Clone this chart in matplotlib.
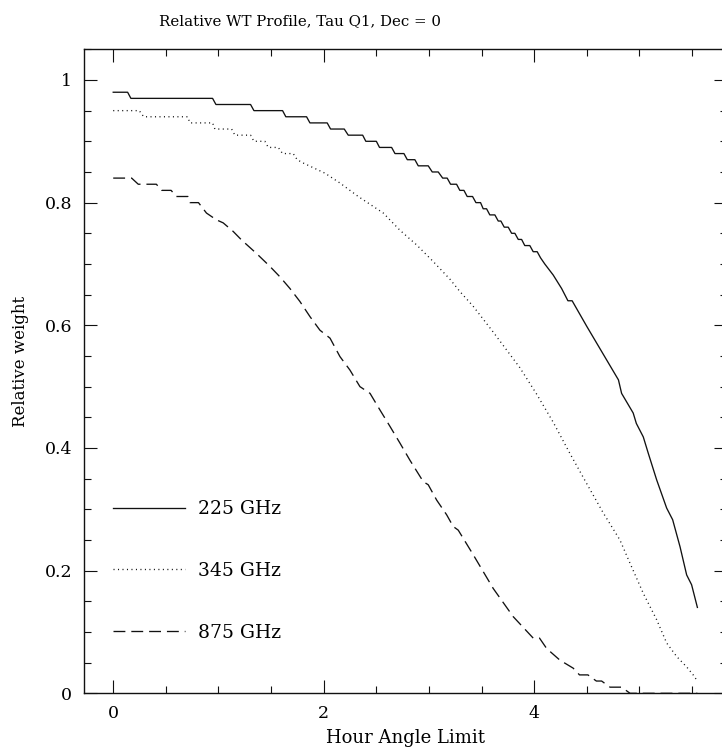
import matplotlib
matplotlib.use("Agg")
import matplotlib.pyplot as plt
from matplotlib.ticker import MultipleLocator, FuncFormatter

# ---- data ----
hour_225 = [0.0, 0.137, 0.168, 0.944, 0.976, 1.305, 1.337, 1.609, 1.64, 1.837, 1.869, 2.033, 2.065,
            2.195, 2.233, 2.37, 2.40, 2.50, 2.53, 2.645, 2.677, 2.762, 2.794, 2.866, 2.898, 2.993,
            3.031, 3.088, 3.13, 3.173, 3.205, 3.262, 3.293, 3.332, 3.363, 3.414, 3.446, 3.49, 3.515,
            3.547, 3.578, 3.626, 3.658, 3.683, 3.715, 3.753, 3.785, 3.816, 3.848, 3.88, 3.91, 3.958,
            3.99, 4.028, 4.06, 4.10, 4.18, 4.26, 4.32, 4.36, 4.50, 4.80, 4.83, 4.94, 4.97, 5.036,
            5.084, 5.163, 5.258, 5.315, 5.385, 5.448, 5.495, 5.55]
wt_225 = [0.98, 0.98, 0.97, 0.97, 0.96, 0.96, 0.95, 0.95, 0.94, 0.94, 0.93, 0.93, 0.92, 0.92,
          0.91, 0.91, 0.90, 0.90, 0.89, 0.89, 0.88, 0.88, 0.87, 0.87, 0.86, 0.86, 0.85, 0.85,
          0.84, 0.84, 0.83, 0.83, 0.82, 0.82, 0.81, 0.81, 0.80, 0.80, 0.79, 0.79, 0.78, 0.78,
          0.77, 0.77, 0.76, 0.76, 0.75, 0.75, 0.74, 0.74, 0.73, 0.73, 0.72, 0.72, 0.71, 0.70,
          0.682, 0.66, 0.64, 0.64, 0.598, 0.511, 0.489, 0.457, 0.44, 0.418, 0.391, 0.348,
          0.302, 0.283, 0.239, 0.193, 0.177, 0.14]

hour_345 = [0.0, 0.247, 0.29, 0.707, 0.729, 0.944, 0.966, 1.125, 1.156, 1.305, 1.337, 1.441,
            1.473, 1.568, 1.609, 1.71, 1.748, 1.80, 2.012, 2.154, 2.328, 2.566, 2.724, 2.883,
            3.04, 3.2, 3.294, 3.42, 3.61, 3.863, 4.022, 4.18, 4.339, 4.498, 4.656, 4.814, 4.91,
            5.036, 5.163, 5.258, 5.353, 5.448, 5.51, 5.55]
wt_345 = [0.95, 0.95, 0.94, 0.94, 0.93, 0.93, 0.92, 0.92, 0.91, 0.91, 0.90, 0.90, 0.89, 0.89,
          0.88, 0.88, 0.87, 0.865, 0.848, 0.832, 0.81, 0.783, 0.755, 0.731, 0.704, 0.675, 0.655,
          0.631, 0.589, 0.531, 0.488, 0.442, 0.391, 0.342, 0.294, 0.25, 0.212, 0.163, 0.12, 0.082,
          0.06, 0.043, 0.03, 0.02]

hour_875 = [0.0, 0.175, 0.238, 0.41, 0.46, 0.55, 0.60, 0.71, 0.73, 0.81, 0.886, 0.98, 1.045,
            1.14, 1.22, 1.362, 1.489, 1.584, 1.679, 1.773, 1.87, 1.964, 2.06, 2.154, 2.249,
            2.344, 2.44, 2.534, 2.63, 2.724, 2.819, 2.946, 2.993, 3.073, 3.168, 3.23, 3.278,
            3.42, 3.61, 3.80, 3.99, 4.05, 4.118, 4.244, 4.37, 4.43, 4.51, 4.59, 4.64, 4.72,
            4.83, 4.91, 5.55]
wt_875 = [0.84, 0.84, 0.83, 0.83, 0.82, 0.82, 0.81, 0.81, 0.80, 0.80, 0.783, 0.772, 0.767,
          0.753, 0.739, 0.717, 0.696, 0.679, 0.66, 0.639, 0.614, 0.592, 0.579, 0.549, 0.527,
          0.50, 0.489, 0.462, 0.435, 0.408, 0.38, 0.345, 0.34, 0.315, 0.291, 0.272, 0.266,
          0.226, 0.171, 0.125, 0.09, 0.09, 0.073, 0.054, 0.041, 0.03, 0.03, 0.02, 0.02, 0.01,
          0.01, 0.0, 0.0]

series_labels = ["225 GHz", "345 GHz", "875 GHz"]
title_text = "Relative WT Profile, Tau Q1, Dec = 0"
xlabel_text = "Hour Angle Limit"
ylabel_text = "Relative weight"

# ---- figure ----
plt.rcParams['font.family'] = ['DejaVu Serif']
W, H = 722, 751
fig = plt.figure(figsize=(W / 100, H / 100), dpi=100)
ax = fig.add_axes([84 / W, (H - 693.3) / H, (726.6 - 84) / W, (693.3 - 49.3) / H])

ink = '#111111'
lw = 0.95
l1, = ax.plot(hour_225, wt_225, color=ink, lw=lw, ls='-')
l2, = ax.plot(hour_345, wt_345, color=ink, lw=lw, ls=(0, (0.8, 2.6)), dash_capstyle='butt')
l3, = ax.plot(hour_875, wt_875, color=ink, lw=lw, ls=(0, (9.0, 4.5)), dash_capstyle='butt')

ax.set_xlim(-0.2775, 5.8275)
ax.set_ylim(0, 1.05)

ax.xaxis.set_major_locator(MultipleLocator(2))
ax.xaxis.set_minor_locator(MultipleLocator(0.5))
ax.yaxis.set_major_locator(MultipleLocator(0.2))
ax.yaxis.set_minor_locator(MultipleLocator(0.05))
ax.xaxis.set_major_formatter(FuncFormatter(lambda v, p: '%g' % round(v, 3)))
ax.yaxis.set_major_formatter(FuncFormatter(lambda v, p: '%g' % round(v, 3)))

ax.tick_params(which='both', direction='in', top=True, right=True, color=ink, width=0.8)
ax.tick_params(which='major', length=9.4, labelsize=12.5, pad=8.5)
ax.tick_params(which='minor', length=4.8)
for s in ax.spines.values():
    s.set_linewidth(1.0)
    s.set_color(ink)

ax.set_xlabel(xlabel_text, fontsize=13, labelpad=5)
ax.set_ylabel(ylabel_text, fontsize=12)
ax.yaxis.set_label_coords((29 - 84) / 642.6, (693.3 - 361.5) / 644)

fig.text(300 / W, 1 - 25 / H, title_text, ha='center', va='baseline', fontsize=10.8)

ax.legend([l1, l2, l3], series_labels, loc='center left',
          bbox_to_anchor=((113.3 - 84) / 642.6, (693.3 - 571.0) / 644), frameon=False,
          fontsize=13.5, handlelength=3.85, handletextpad=0.68, labelspacing=2.33,
          borderpad=0, borderaxespad=0)

fig.savefig('out.png', dpi=100)
